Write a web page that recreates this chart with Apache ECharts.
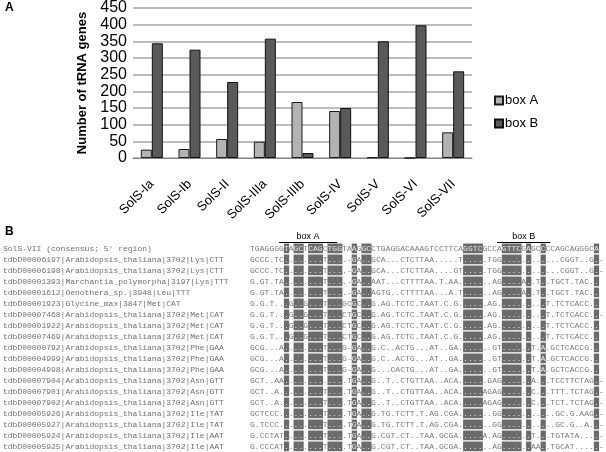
<!DOCTYPE html>
<html>
<head>
<meta charset="utf-8">
<script src="https://cdn.jsdelivr.net/npm/echarts@6/dist/echarts.min.js"></script>
<style>
  html, body { margin: 0; padding: 0; background: #fff; }
  #chart { width: 606px; height: 452px; }
</style>
</head>
<body>
<div id="chart"></div>
<script>
// panel A data
const categories = ['SolS-Ia', 'SolS-Ib', 'SolS-II', 'SolS-IIIa', 'SolS-IIIb', 'SolS-IV', 'SolS-V', 'SolS-VI', 'SolS-VII']
const boxA = [25, 27, 57, 49, 168, 141, 2, 0, 77]
const boxB = [344, 325, 228, 358, 15, 150, 350, 398, 260]
const yTicks = [0, 450, 50] // min, max, step

// panel B data (alignment, '|' only separates segments)
const seqNames = [
  "SolS-VII (consensus; 5' region)",
  'tdbD00006197|Arabidopsis_thaliana|3702|Lys|CTT',
  'tdbD00006198|Arabidopsis_thaliana|3702|Lys|CTT',
  'tdbD00001393|Marchantia_polymorpha|3197|Lys|TTT',
  'tdbD00001612|Oenothera_sp.|3948|Leu|TTT',
  'tdbD00001923|Glycine_max|3847|Met|CAT',
  'tdbD00007468|Arabidopsis_thaliana|3702|Met|CAT',
  'tdbD00001922|Arabidopsis_thaliana|3702|Met|CAT',
  'tdbD00007469|Arabidopsis_thaliana|3702|Met|CAT',
  'tdbD00000792|Arabidopsis_thaliana|3702|Phe|GAA',
  'tdbD00004999|Arabidopsis_thaliana|3702|Phe|GAA',
  'tdbD00004998|Arabidopsis_thaliana|3702|Phe|GAA',
  'tdbD00007904|Arabidopsis_thaliana|3702|Asn|GTT',
  'tdbD00007901|Arabidopsis_thaliana|3702|Asn|GTT',
  'tdbD00007902|Arabidopsis_thaliana|3702|Asn|GTT',
  'tdbD00005926|Arabidopsis_thaliana|3702|Ile|TAT',
  'tdbD00005927|Arabidopsis_thaliana|3702|Ile|TAT',
  'tdbD00005924|Arabidopsis_thaliana|3702|Ile|AAT',
  'tdbD00005925|Arabidopsis_thaliana|3702|Ile|AAT'
]
const seqRows = [
  'TGAGGGG|T|A|GC|T|CAG|C|TGG|TA|AG|GC|CTGAGGACAAAGTCCTTCA|GGTC|GCCA|GTTC|GAGCC|CCAGCAGGGC|A| ',
  'GCCC.TC|.|.|..|.|...|T|...|.-|GA|..|GCA...CTCTTAA.....T|....|.TGG|....|.....|...CGGT..G|.|-',
  'GCCC.TC|.|.|..|.|...|T|...|.-|GA|..|GCA...CTCTTAA....GT|....|.TGG|....|.....|...CGGT..G|.|-',
  'G.GT.TA|.|.|..|.|...|T|...|.-|GA|..|AAT...CTTTTAA.T.AA.|....|..AG|....|A..T.|.TGCT.TAC.|.| ',
  'G.GT.TA|.|.|..|.|...|T|...|.-|GA|..|AGTG..CTTTTAA...A.T|....|..AG|....|A..T.|.TGCT.TAC.|.| ',
  'G.G.T..|.|G|..|G|...|T|...|GC|GC|..|G.AG.TCTC.TAAT.C.G.|....|.AG.|....|.....|T.TCTCACC.|.| ',
  'G.G.T..|.|G|..|G|...|T|...|CT|GC|..|G.AG.TCTC.TAAT.C.G.|....|.AG.|....|.....|T.TCTCACC.|.|-',
  'G.G.T..|.|G|..|G|...|T|...|CT|GC|..|G.AG.TCTC.TAAT.C.G.|....|.AG.|....|.....|T.TCTCACC.|.| ',
  'G.G.T..|.|G|..|G|...|T|...|CT|GC|..|G.AG.TCTC.TAAT.C.G.|....|.AG.|....|.....|T.TCTCACC.|.| ',
  'GCG...A|.|.|..|.|...|T|...|G-|GA|..|G.C..ACTG...AT..GA.|....|..GT|....|..T.A|.GCTCACCG.|.| ',
  'GCG...A|.|.|..|.|...|T|...|G-|GA|..|G.C..ACTG...AT..GA.|....|..GT|....|..T.A|.GCTCACCG.|.| ',
  'GCG...A|.|.|..|.|...|T|...|G-|GA|..|G...CACTG...AT..GA.|....|..GT|....|..T.A|.GCTCACCG.|.| ',
  'GCT..AA|.|.|..|.|...|.|...|.T|GA|..|G..T..CTGTTAA..ACA.|....|.GAG|....|..A..|.TCCTTCTAG|.|-',
  'GCT..A.|.|.|..|.|...|T|...|.T|GA|..|G..T..CTGTTAA..ACA.|....|AGAG|....|..C..|.TTT.TCTAG|.|-',
  'GCT..A.|.|.|..|.|...|T|...|.T|GA|..|G..T..CTGTTAA..ACA.|....|AGAG|....|..C..|.TCT.TCTAG|.|-',
  'GCTCCC.|.|.|..|.|...|T|...|.T|GA|..|G.TG.TCTT.T.AG.CGA.|....|..GG|....|.....|..GC.G.AAG|.|-',
  'G.TCCC.|.|.|..|.|...|T|...|.T|GA|..|G.TG.TCTT.T.AG.CGA.|....|..GG|....|.....|..GC.G..A.|.|-',
  'G.CCTAT|.|.|..|.|...|T|...|.T|GA|..|G.CGT.CT..TAA.GCGA.|....|A.AG|....|..T..|.TGTATA...|.|-',
  'G.CCCAT|.|.|..|.|...|T|...|.T|GA|..|G.CGT.CT..TAA.GCGA.|....|..AG|....|..AA.|.TGCAT....|.|-'
]
const shadeCols = [8, 10, 11, 13, 14, 15, 17, 18, 19, 22, 24, 25, 45, 46, 47, 48, 53, 54, 55, 56, 58, 61, 72]
const boxLabels = ['box A', 'box B']
const boxSpans = [[7, 18], [52, 62]] // first and last column under each label
const nCols = 73

const chart = echarts.init(document.getElementById('chart'))

const cells = []
seqRows.forEach((row, r) => {
  const s = row.replace(/\|/g, '')
  for (let c = 0; c < nCols; c++) {
    const ch = s[c] || ' '
    const shaded = shadeCols.indexOf(c + 1) >= 0 ? 1 : 0
    cells.push({ value: [c + 0.5, r + 1, shaded], ch: ch })
  }
})

const boxData = boxSpans.map((sp, i) => ({ value: [sp[0] - 1, sp[1], 0], label: boxLabels[i] }))

const sans = 'Liberation Sans, Arial, sans-serif'
const mono = 'Liberation Mono, Courier New, monospace'

chart.setOption({
  animation: false,
  backgroundColor: '#fff',
  graphic: [
    { type: 'text', left: 5, top: 2, style: { text: 'A', font: 'bold 12px ' + sans, fill: '#000' } },
    { type: 'text', left: 5, top: 226, style: { text: 'B', font: 'bold 12px ' + sans, fill: '#000' } }
  ],
  legend: {
    orient: 'vertical',
    left: 489,
    top: 89,
    itemWidth: 8,
    itemHeight: 8,
    itemGap: 10,
    icon: 'rect',
    textStyle: { fontFamily: sans, fontSize: 13, color: '#000', padding: [0, 0, 0, -3] },
    data: ['box A', 'box B']
  },
  grid: [
    { left: 133, right: 134, top: 6, bottom: 294 },
    { left: 249.5, width: nCols * 4.85, top: 232, height: 220 }
  ],
  xAxis: [
    {
      gridIndex: 0,
      type: 'category',
      data: categories,
      axisLine: { lineStyle: { color: '#868686', width: 1 } },
      axisTick: { length: 5, lineStyle: { color: '#868686' } },
      axisLabel: { rotate: 45, margin: 24, fontFamily: sans, fontSize: 13, color: '#000' }
    },
    {
      gridIndex: 1,
      type: 'value',
      min: 0,
      max: nCols,
      show: false
    }
  ],
  yAxis: [
    {
      gridIndex: 0,
      type: 'value',
      min: yTicks[0],
      max: yTicks[1],
      interval: yTicks[2],
      name: 'Number of tRNA genes',
      nameLocation: 'middle',
      nameGap: 44,
      nameTextStyle: { fontFamily: sans, fontSize: 13, fontWeight: 'bold', color: '#000' },
      axisLine: { show: false },
      axisTick: { show: false },
      axisLabel: { fontFamily: sans, fontSize: 16, color: '#000', margin: 6 },
      splitLine: { lineStyle: { color: '#a6a6a6', width: 1.5 } }
    },
    {
      gridIndex: 1,
      type: 'category',
      inverse: true,
      data: [''].concat(seqNames),
      axisLine: { show: false },
      axisTick: { show: false },
      axisLabel: {
        align: 'left',
        margin: 247,
        fontFamily: mono,
        fontSize: 8,
        color: '#707070'
      }
    }
  ],
  series: [
    {
      name: 'box A',
      type: 'bar',
      xAxisIndex: 0,
      yAxisIndex: 0,
      data: boxA,
      barWidth: 11,
      barGap: '0%',
      itemStyle: { color: '#b3b3b3', borderColor: '#1a1a1a', borderWidth: 1 }
    },
    {
      name: 'box B',
      type: 'bar',
      xAxisIndex: 0,
      yAxisIndex: 0,
      data: boxB,
      barWidth: 11,
      barGap: '0%',
      itemStyle: { color: '#5a5a5a', borderColor: '#111', borderWidth: 1 }
    },
    {
      type: 'custom',
      xAxisIndex: 1,
      yAxisIndex: 1,
      silent: true,
      data: cells,
      renderItem: function (params, api) {
        const p = api.coord([api.value(0), api.value(1)])
        const w = api.size([1, 0])[0]
        const h = api.size([0, 1])[1]
        const shaded = api.value(2)
        const kids = []
        if (shaded) {
          kids.push({
            type: 'rect',
            shape: { x: p[0] - w / 2, y: p[1] - h * 0.45, width: w + 0.4, height: h * 0.88 },
            style: { fill: '#6a6a6a' }
          })
        }
        kids.push({
          type: 'text',
          style: {
            text: cells[params.dataIndex].ch,
            x: p[0],
            y: p[1],
            align: 'center',
            verticalAlign: 'middle',
            font: '8px ' + mono,
            fill: shaded ? '#e8e8e8' : '#7a7a7a'
          }
        })
        return { type: 'group', children: kids }
      }
    },
    {
      type: 'custom',
      xAxisIndex: 1,
      yAxisIndex: 1,
      silent: true,
      data: boxData,
      renderItem: function (params, api) {
        const a = api.coord([api.value(0), api.value(2)])
        const b = api.coord([api.value(1), api.value(2)])
        return {
          type: 'group',
          children: [
            {
              type: 'text',
              style: {
                text: boxData[params.dataIndex].label,
                x: (a[0] + b[0]) / 2,
                y: a[1] - 1,
                align: 'center',
                verticalAlign: 'middle',
                font: '9px ' + sans,
                fill: '#000'
              }
            },
            {
              type: 'line',
              shape: { x1: a[0], y1: a[1] + 5, x2: b[0], y2: a[1] + 5 },
              style: { stroke: '#000', lineWidth: 1 }
            }
          ]
        }
      }
    }
  ]
})
</script>
</body>
</html>
